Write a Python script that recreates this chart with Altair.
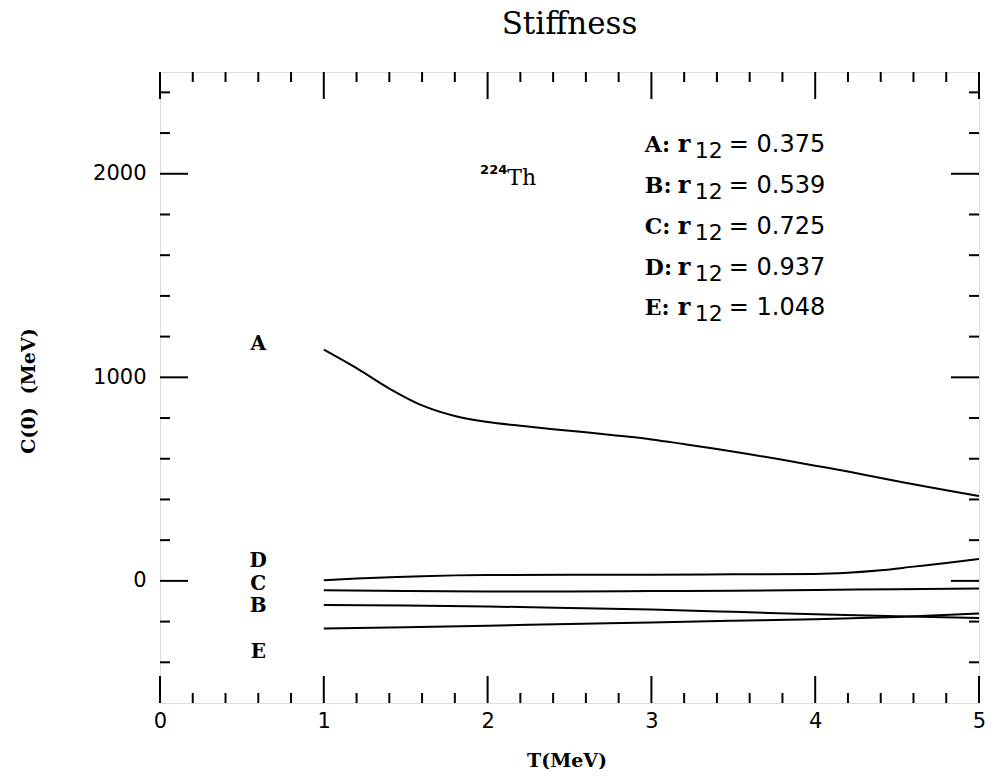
import altair as alt
import pandas as pd

# ---- data ----
T_A = [1.0, 1.2, 1.4, 1.6, 1.8, 2.0, 2.2, 2.4, 2.6, 2.8, 3.0, 3.2, 3.4, 3.6, 3.8, 4.0, 4.2, 4.4, 4.6, 4.8, 5.0]
C_A = [1136, 1045, 945, 862, 810, 780, 762, 745, 730, 713, 695, 672, 648, 622, 595, 566, 537, 505, 475, 445, 417]
T_D = [1.0, 1.2, 1.4, 1.6, 1.8, 2.0, 2.5, 3.0, 3.5, 4.0, 4.2, 4.4, 4.6, 4.8, 5.0]
C_D = [3, 12, 18, 23, 27, 29, 30, 30, 32, 34, 40, 52, 70, 88, 108]
T_C = [1.0, 1.5, 2.0, 2.5, 3.0, 3.5, 4.0, 4.5, 5.0]
C_C = [-46, -50, -52, -52, -50, -48, -45, -41, -38]
T_B = [1.0, 1.5, 2.0, 2.5, 3.0, 3.5, 4.0, 4.5, 5.0]
C_B = [-118, -121, -126, -133, -141, -152, -164, -174, -183]
T_E = [1.0, 1.5, 2.0, 2.5, 3.0, 3.5, 4.0, 4.5, 5.0]
C_E = [-234, -228, -220, -212, -204, -196, -188, -177, -160]

curve_names = ["A", "D", "C", "B", "E"]
curve_label_C = [1162, 96, -15, -125, -348]
curve_label_T = [0.6, 0.6, 0.6, 0.6, 0.6]

legend_letters = ["A:", "B:", "C:", "D:", "E:"]
legend_values = ["= 0.375", "= 0.539", "= 0.725", "= 0.937", "= 1.048"]
legend_T = 2.96
legend_C = [2108, 1907, 1706, 1505, 1304]

nucleus_mass = "224"
nucleus_symbol = "Th"
nucleus_T = 2.12
nucleus_C = 1946

x_major = [0, 1, 2, 3, 4, 5]
x_minor = [0.2, 0.4, 0.6, 0.8, 1.2, 1.4, 1.6, 1.8, 2.2, 2.4, 2.6, 2.8,
           3.2, 3.4, 3.6, 3.8, 4.2, 4.4, 4.6, 4.8]
y_major = [0, 1000, 2000]
y_minor = [-400, -200, 200, 400, 600, 800, 1200, 1400, 1600, 1800, 2200, 2400]

# ---- build ----
rows = []
for name, ts, cs in [("A", T_A, C_A), ("D", T_D, C_D), ("C", T_C, C_C), ("B", T_B, C_B), ("E", T_E, C_E)]:
    for t, c in zip(ts, cs):
        rows.append({"series": name, "T": t, "C": c})
curves = pd.DataFrame(rows)

W, H = 819, 631
xs = alt.Scale(domain=[0, 5], nice=False, zero=False)
ys = alt.Scale(domain=[-600, 2500], nice=False, zero=False)

base_x = alt.X("T:Q", scale=xs,
               axis=alt.Axis(values=x_major, format="d", ticks=False, domain=False, grid=False,
                             labelFont="DejaVu Sans", labelFontSize=21, labelColor="black",
                             labelPadding=7, labelFlush=False,
                             title="T(MeV)", titleFont="DejaVu Serif", titleFontSize=19,
                             titleFontWeight="bold", titleColor="black",
                             titleX=W / 2 - 3, titleY=57, titleBaseline="middle"))
base_y = alt.Y("C:Q", scale=ys,
               axis=alt.Axis(values=y_major, format="d", ticks=False, domain=False, grid=False,
                             labelFont="DejaVu Sans", labelFontSize=21, labelColor="black",
                             labelPadding=14, labelFlush=False,
                             title="C(0)\u00a0\u00a0(MeV)", titleFont="DejaVu Serif", titleFontSize=19,
                             titleFontWeight="bold", titleColor="black",
                             titleX=-132, titleY=H / 2 + 3, titleAngle=-90,
                             titleBaseline="middle", titleAlign="center"))

lines = alt.Chart(curves).mark_line(color="black", strokeWidth=2, clip=True,
                                    interpolate="monotone").encode(
    x=base_x, y=base_y, detail="series:N", order="T:Q")

# ticks (inward)
def xticks(vals, length):
    df = pd.DataFrame({"T": vals})
    bot = alt.Chart(df).mark_rule(color="black", strokeWidth=2).encode(
        x=alt.X("T:Q", scale=xs), y=alt.value(H), y2=alt.value(H - length))
    top = alt.Chart(df).mark_rule(color="black", strokeWidth=2).encode(
        x=alt.X("T:Q", scale=xs), y=alt.value(0), y2=alt.value(length))
    return [bot, top]

def yticks(vals, length):
    df = pd.DataFrame({"C": vals})
    left = alt.Chart(df).mark_rule(color="black", strokeWidth=2).encode(
        y=alt.Y("C:Q", scale=ys), x=alt.value(0), x2=alt.value(length))
    right = alt.Chart(df).mark_rule(color="black", strokeWidth=2).encode(
        y=alt.Y("C:Q", scale=ys), x=alt.value(W), x2=alt.value(W - length))
    return [left, right]

tick_layers = xticks(x_major, 27) + xticks(x_minor, 10) + yticks(y_major, 28) + yticks(y_minor, 10)

# curve labels
lab_df = pd.DataFrame({"name": curve_names, "T": curve_label_T, "C": curve_label_C})
curve_labels = alt.Chart(lab_df).mark_text(
    font="DejaVu Serif", fontWeight="bold", fontSize=20, color="black",
    align="center", baseline="middle").encode(
    x=alt.X("T:Q", scale=xs), y=alt.Y("C:Q", scale=ys), text="name:N")

# legend text
leg_df = pd.DataFrame({"lt": legend_letters, "val": legend_values,
                       "T": [legend_T] * 5, "C": legend_C,
                       "r": ["r"] * 5, "sub": ["12"] * 5})
leg1 = alt.Chart(leg_df).mark_text(
    font="DejaVu Serif", fontWeight="bold", fontSize=22, color="black",
    align="left", baseline="alphabetic").encode(
    x=alt.X("T:Q", scale=xs), y=alt.Y("C:Q", scale=ys), text="lt:N")
leg_r = alt.Chart(leg_df).mark_text(
    font="DejaVu Serif", fontWeight="bold", fontSize=24, color="black",
    align="left", baseline="alphabetic", dx=33).encode(
    x=alt.X("T:Q", scale=xs), y=alt.Y("C:Q", scale=ys), text="r:N")
leg2 = alt.Chart(leg_df).mark_text(
    font="DejaVu Sans", fontSize=22, color="black",
    align="left", baseline="alphabetic", dx=50, dy=6).encode(
    x=alt.X("T:Q", scale=xs), y=alt.Y("C:Q", scale=ys), text="sub:N")
leg3 = alt.Chart(leg_df).mark_text(
    font="DejaVu Sans", fontSize=24, color="black",
    align="left", baseline="alphabetic", dx=84).encode(
    x=alt.X("T:Q", scale=xs), y=alt.Y("C:Q", scale=ys), text="val:N")

nuc_df = pd.DataFrame({"T": [nucleus_T], "C": [nucleus_C], "m": [nucleus_mass], "s": [nucleus_symbol]})
nuc_sym = alt.Chart(nuc_df).mark_text(
    font="DejaVu Serif", fontSize=22, color="black", align="left", baseline="alphabetic").encode(
    x=alt.X("T:Q", scale=xs), y=alt.Y("C:Q", scale=ys), text="s:N")
nuc_mass = alt.Chart(nuc_df).mark_text(
    font="DejaVu Sans", fontWeight="bold", fontSize=13, color="black", align="right",
    baseline="alphabetic", dy=-11).encode(
    x=alt.X("T:Q", scale=xs), y=alt.Y("C:Q", scale=ys), text="m:N")

chart = alt.layer(lines, *tick_layers, curve_labels, leg1, leg_r, leg2, leg3, nuc_sym, nuc_mass).properties(
    width=W, height=H,
    title=alt.TitleParams("Stiffness", font="DejaVu Serif", fontSize=31, fontWeight="normal",
                          color="black", anchor="middle", offset=30),
    autosize=alt.AutoSizeParams(type="none"),
    padding={"left": 152, "top": 64, "right": 7, "bottom": 66},
).configure_view(stroke="black", strokeWidth=2.5, fill="white").configure(background="white")

chart.save("out.html", embed_options={"renderer": "svg", "actions": False})
